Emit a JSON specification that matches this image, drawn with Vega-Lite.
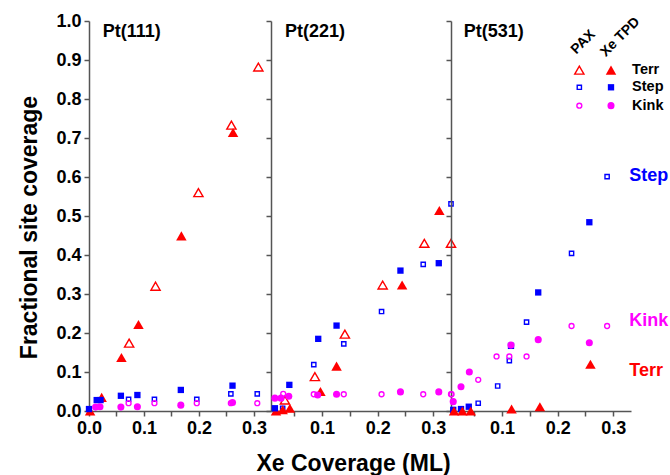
{
  "$schema": "https://vega.github.io/schema/vega-lite/v6.json",
  "background": "white",
  "padding": {"left": 18, "top": 12, "right": 0, "bottom": 0},
  "bounds": "flush",
  "spacing": 0,
  "config": {
    "font": "Liberation Sans",
    "view": {"stroke": null},
    "axis": {
      "labelFont": "Liberation Sans", "labelFontWeight": "bold", "labelFontSize": 18, "labelColor": "black",
      "titleFont": "Liberation Sans", "titleFontWeight": "bold", "titleFontSize": 23, "titleColor": "black",
      "domainColor": "#555", "domainWidth": 1.5, "tickColor": "#555", "tickWidth": 1.5, "tickSize": 5,
      "grid": false, "labelPadding": 3, "labelFlush": false, "labelOverlap": false
    },
    "text": {"font": "Liberation Sans", "fontWeight": "bold"}
  },
  "datasets": {
    "pts": [
      {"p":"111","m":"PAX","s":"Terr","x":0.073,"y":0.174},
      {"p":"111","m":"PAX","s":"Terr","x":0.121,"y":0.32},
      {"p":"111","m":"PAX","s":"Terr","x":0.199,"y":0.56},
      {"p":"111","m":"PAX","s":"Terr","x":0.259,"y":0.733},
      {"p":"111","m":"PAX","s":"Terr","x":0.308,"y":0.882},
      {"p":"111","m":"TPD","s":"Terr","x":0.002,"y":0.0},
      {"p":"111","m":"TPD","s":"Terr","x":0.023,"y":0.035},
      {"p":"111","m":"TPD","s":"Terr","x":0.059,"y":0.137},
      {"p":"111","m":"TPD","s":"Terr","x":0.090,"y":0.222},
      {"p":"111","m":"TPD","s":"Terr","x":0.168,"y":0.449},
      {"p":"111","m":"TPD","s":"Terr","x":0.262,"y":0.714},
      {"p":"111","m":"PAX","s":"Step","x":0.072,"y":0.030},
      {"p":"111","m":"PAX","s":"Step","x":0.119,"y":0.030},
      {"p":"111","m":"PAX","s":"Step","x":0.196,"y":0.030},
      {"p":"111","m":"PAX","s":"Step","x":0.258,"y":0.044},
      {"p":"111","m":"PAX","s":"Step","x":0.306,"y":0.044},
      {"p":"111","m":"TPD","s":"Step","x":0.0,"y":0.005},
      {"p":"111","m":"TPD","s":"Step","x":0.014,"y":0.028},
      {"p":"111","m":"TPD","s":"Step","x":0.021,"y":0.028},
      {"p":"111","m":"TPD","s":"Step","x":0.058,"y":0.039},
      {"p":"111","m":"TPD","s":"Step","x":0.088,"y":0.041},
      {"p":"111","m":"TPD","s":"Step","x":0.167,"y":0.054},
      {"p":"111","m":"TPD","s":"Step","x":0.261,"y":0.065},
      {"p":"111","m":"PAX","s":"Kink","x":0.072,"y":0.02},
      {"p":"111","m":"PAX","s":"Kink","x":0.119,"y":0.02},
      {"p":"111","m":"PAX","s":"Kink","x":0.196,"y":0.02},
      {"p":"111","m":"PAX","s":"Kink","x":0.258,"y":0.02},
      {"p":"111","m":"PAX","s":"Kink","x":0.306,"y":0.02},
      {"p":"111","m":"TPD","s":"Kink","x":0.012,"y":0.01},
      {"p":"111","m":"TPD","s":"Kink","x":0.02,"y":0.011},
      {"p":"111","m":"TPD","s":"Kink","x":0.058,"y":0.01},
      {"p":"111","m":"TPD","s":"Kink","x":0.088,"y":0.011},
      {"p":"111","m":"TPD","s":"Kink","x":0.167,"y":0.015},
      {"p":"111","m":"TPD","s":"Kink","x":0.261,"y":0.022},

      {"p":"221","m":"PAX","s":"Terr","x":0.033,"y":0.028},
      {"p":"221","m":"PAX","s":"Terr","x":0.087,"y":0.088},
      {"p":"221","m":"PAX","s":"Terr","x":0.141,"y":0.197},
      {"p":"221","m":"PAX","s":"Terr","x":0.209,"y":0.323},
      {"p":"221","m":"PAX","s":"Terr","x":0.284,"y":0.43},
      {"p":"221","m":"PAX","s":"Terr","x":0.332,"y":0.43},
      {"p":"221","m":"TPD","s":"Terr","x":0.017,"y":0.0},
      {"p":"221","m":"TPD","s":"Terr","x":0.029,"y":0.003},
      {"p":"221","m":"TPD","s":"Terr","x":0.042,"y":0.007},
      {"p":"221","m":"TPD","s":"Terr","x":0.097,"y":0.05},
      {"p":"221","m":"TPD","s":"Terr","x":0.126,"y":0.115},
      {"p":"221","m":"TPD","s":"Terr","x":0.244,"y":0.323},
      {"p":"221","m":"TPD","s":"Terr","x":0.311,"y":0.514},
      {"p":"221","m":"PAX","s":"Step","x":0.029,"y":0.007},
      {"p":"221","m":"PAX","s":"Step","x":0.085,"y":0.119},
      {"p":"221","m":"PAX","s":"Step","x":0.139,"y":0.172},
      {"p":"221","m":"PAX","s":"Step","x":0.207,"y":0.255},
      {"p":"221","m":"PAX","s":"Step","x":0.282,"y":0.376},
      {"p":"221","m":"PAX","s":"Step","x":0.332,"y":0.531},
      {"p":"221","m":"TPD","s":"Step","x":0.015,"y":0.007},
      {"p":"221","m":"TPD","s":"Step","x":0.041,"y":0.067},
      {"p":"221","m":"TPD","s":"Step","x":0.093,"y":0.185},
      {"p":"221","m":"TPD","s":"Step","x":0.126,"y":0.219},
      {"p":"221","m":"TPD","s":"Step","x":0.241,"y":0.36},
      {"p":"221","m":"TPD","s":"Step","x":0.31,"y":0.379},
      {"p":"221","m":"PAX","s":"Kink","x":0.03,"y":0.044},
      {"p":"221","m":"PAX","s":"Kink","x":0.085,"y":0.043},
      {"p":"221","m":"PAX","s":"Kink","x":0.139,"y":0.043},
      {"p":"221","m":"PAX","s":"Kink","x":0.207,"y":0.043},
      {"p":"221","m":"PAX","s":"Kink","x":0.282,"y":0.043},
      {"p":"221","m":"PAX","s":"Kink","x":0.333,"y":0.043},
      {"p":"221","m":"TPD","s":"Kink","x":0.015,"y":0.033},
      {"p":"221","m":"TPD","s":"Kink","x":0.026,"y":0.033},
      {"p":"221","m":"TPD","s":"Kink","x":0.04,"y":0.038},
      {"p":"221","m":"TPD","s":"Kink","x":0.092,"y":0.041},
      {"p":"221","m":"TPD","s":"Kink","x":0.126,"y":0.043},
      {"p":"221","m":"TPD","s":"Kink","x":0.241,"y":0.049},
      {"p":"221","m":"TPD","s":"Kink","x":0.31,"y":0.049},

      {"p":"531","m":"PAX","s":"Step","x":0.057,"y":0.02},
      {"p":"531","m":"PAX","s":"Step","x":0.092,"y":0.064},
      {"p":"531","m":"PAX","s":"Step","x":0.113,"y":0.129},
      {"p":"531","m":"PAX","s":"Step","x":0.144,"y":0.228},
      {"p":"531","m":"PAX","s":"Step","x":0.225,"y":0.404},
      {"p":"531","m":"PAX","s":"Step","x":0.289,"y":0.601},
      {"p":"531","m":"TPD","s":"Step","x":0.012,"y":0.003},
      {"p":"531","m":"TPD","s":"Step","x":0.026,"y":0.005},
      {"p":"531","m":"TPD","s":"Step","x":0.04,"y":0.011},
      {"p":"531","m":"TPD","s":"Step","x":0.116,"y":0.167},
      {"p":"531","m":"TPD","s":"Step","x":0.165,"y":0.304},
      {"p":"531","m":"TPD","s":"Step","x":0.257,"y":0.484},
      {"p":"531","m":"PAX","s":"Kink","x":0.008,"y":0.043},
      {"p":"531","m":"PAX","s":"Kink","x":0.057,"y":0.08},
      {"p":"531","m":"PAX","s":"Kink","x":0.09,"y":0.14},
      {"p":"531","m":"PAX","s":"Kink","x":0.113,"y":0.14},
      {"p":"531","m":"PAX","s":"Kink","x":0.144,"y":0.14},
      {"p":"531","m":"PAX","s":"Kink","x":0.225,"y":0.218},
      {"p":"531","m":"PAX","s":"Kink","x":0.289,"y":0.218},
      {"p":"531","m":"TPD","s":"Kink","x":0.012,"y":0.024},
      {"p":"531","m":"TPD","s":"Kink","x":0.026,"y":0.062},
      {"p":"531","m":"TPD","s":"Kink","x":0.041,"y":0.1},
      {"p":"531","m":"TPD","s":"Kink","x":0.116,"y":0.169},
      {"p":"531","m":"TPD","s":"Kink","x":0.165,"y":0.183},
      {"p":"531","m":"TPD","s":"Kink","x":0.257,"y":0.175},
      {"p":"531","m":"TPD","s":"Terr","x":0.0135,"y":0.0},
      {"p":"531","m":"TPD","s":"Terr","x":0.0285,"y":0.0},
      {"p":"531","m":"TPD","s":"Terr","x":0.0435,"y":0.0},
      {"p":"531","m":"TPD","s":"Terr","x":0.117,"y":0.005},
      {"p":"531","m":"TPD","s":"Terr","x":0.168,"y":0.011},
      {"p":"531","m":"TPD","s":"Terr","x":0.259,"y":0.12}
    ],
    "leg": [
      {"m":"PAX","s":"Terr","x":0.239,"y":0.874},
      {"m":"PAX","s":"Step","x":0.239,"y":0.83},
      {"m":"PAX","s":"Kink","x":0.239,"y":0.783},
      {"m":"TPD","s":"Terr","x":0.296,"y":0.874},
      {"m":"TPD","s":"Step","x":0.296,"y":0.83},
      {"m":"TPD","s":"Kink","x":0.296,"y":0.783}
    ],
    "legtext": [
      {"t":"Terr","x":0.334,"y":0.874},
      {"t":"Step","x":0.334,"y":0.83},
      {"t":"Kink","x":0.334,"y":0.783}
    ],
    "heads": [
      {"t":"PAX","x":0.246,"y":0.946},
      {"t":"Xe TPD","x":0.3126,"y":0.959}
    ],
    "side": [
      {"s":"Step","x":0.329,"y":0.603},
      {"s":"Kink","x":0.329,"y":0.2315},
      {"s":"Terr","x":0.329,"y":0.103}
    ]
  },
  "hconcat": [
    {
      "width": 182, "height": 390,
      "encoding": {
        "x": {"field": "x", "type": "quantitative",
              "scale": {"domain": [0, 0.331], "nice": false, "zero": false},
              "axis": {"values": [0, 0.05, 0.1, 0.15, 0.2, 0.25, 0.3], "title": null,
                       "labelExpr": "abs(datum.value*10 - round(datum.value*10)) < 0.001 ? format(datum.value, '.1f') : ''"}},
        "y": {"field": "y", "type": "quantitative",
              "scale": {"domain": [0, 1], "nice": false, "zero": false},
              "axis": {"values": [0,0.1,0.2,0.3,0.4,0.5,0.6,0.7,0.8,0.9,1.0], "format": ".1f",
                       "title": "Fractional site coverage", "titlePadding": 14, "titleY": 206}}
      },
      "resolve": {"scale": {"size": "independent"}},
      "layer": [
        {"data": {"name": "pts"}, "transform": [{"filter": "datum.p=='111' && datum.m=='PAX'"}],
         "mark": {"type": "point", "filled": false, "strokeWidth": 1.4, "opacity": 1},
         "encoding": {
           "color": {"field": "s", "type": "nominal", "scale": {"domain": ["Terr","Step","Kink"], "range": ["#ff0000","#0000ff","#ff00ff"]}, "legend": null},
           "shape": {"field": "s", "type": "nominal", "scale": {"domain": ["Terr","Step","Kink"], "range": ["triangle-up","square","circle"]}, "legend": null},
           "size": {"field": "s", "type": "nominal", "scale": {"type": "ordinal", "domain": ["Terr","Step","Kink"], "range": [85,18,24]}, "legend": null}}},
        {"data": {"name": "pts"}, "transform": [{"filter": "datum.p=='111' && datum.m=='TPD'"}],
         "mark": {"type": "point", "filled": true, "opacity": 1},
         "encoding": {
           "color": {"field": "s", "type": "nominal", "scale": {"domain": ["Terr","Step","Kink"], "range": ["#ff0000","#0000ff","#ff00ff"]}, "legend": null},
           "shape": {"field": "s", "type": "nominal", "scale": {"domain": ["Terr","Step","Kink"], "range": ["triangle-up","square","circle"]}, "legend": null},
           "size": {"field": "s", "type": "nominal", "scale": {"type": "ordinal", "domain": ["Terr","Step","Kink"], "range": [110,40,50]}, "legend": null}}},
        {"data": {"values": [{"t": "Pt(111)", "x": 0.025, "y": 0.972}]},
         "mark": {"type": "text", "align": "left", "baseline": "middle", "fontSize": 18, "color": "black"},
         "encoding": {"text": {"field": "t"}}}
      ]
    },
    {
      "width": 180, "height": 390,
      "encoding": {
        "x": {"field": "x", "type": "quantitative",
              "scale": {"domain": [0.008, 0.332], "nice": false, "zero": false},
              "axis": {"values": [0.05, 0.1, 0.15, 0.2, 0.25, 0.3], "title": "Xe Coverage (ML)", "titlePadding": 15, "titleX": 82,
                       "labelExpr": "abs(datum.value*10 - round(datum.value*10)) < 0.001 ? format(datum.value, '.1f') : ''"}},
        "y": {"field": "y", "type": "quantitative",
              "scale": {"domain": [0, 1], "nice": false, "zero": false},
              "axis": {"values": [0,0.1,0.2,0.3,0.4,0.5,0.6,0.7,0.8,0.9,1.0], "labels": false, "title": null}}
      },
      "resolve": {"scale": {"size": "independent"}},
      "layer": [
        {"data": {"name": "pts"}, "transform": [{"filter": "datum.p=='221' && datum.m=='PAX'"}],
         "mark": {"type": "point", "filled": false, "strokeWidth": 1.4, "opacity": 1},
         "encoding": {
           "color": {"field": "s", "type": "nominal", "scale": {"domain": ["Terr","Step","Kink"], "range": ["#ff0000","#0000ff","#ff00ff"]}, "legend": null},
           "shape": {"field": "s", "type": "nominal", "scale": {"domain": ["Terr","Step","Kink"], "range": ["triangle-up","square","circle"]}, "legend": null},
           "size": {"field": "s", "type": "nominal", "scale": {"type": "ordinal", "domain": ["Terr","Step","Kink"], "range": [85,18,24]}, "legend": null}}},
        {"data": {"name": "pts"}, "transform": [{"filter": "datum.p=='221' && datum.m=='TPD'"}],
         "mark": {"type": "point", "filled": true, "opacity": 1},
         "encoding": {
           "color": {"field": "s", "type": "nominal", "scale": {"domain": ["Terr","Step","Kink"], "range": ["#ff0000","#0000ff","#ff00ff"]}, "legend": null},
           "shape": {"field": "s", "type": "nominal", "scale": {"domain": ["Terr","Step","Kink"], "range": ["triangle-up","square","circle"]}, "legend": null},
           "size": {"field": "s", "type": "nominal", "scale": {"type": "ordinal", "domain": ["Terr","Step","Kink"], "range": [110,40,50]}, "legend": null}}},
        {"data": {"values": [{"t": "Pt(221)", "x": 0.033, "y": 0.972}]},
         "mark": {"type": "text", "align": "left", "baseline": "middle", "fontSize": 18, "color": "black"},
         "encoding": {"text": {"field": "t"}}}
      ]
    },
    {
      "width": 180, "height": 390,
      "encoding": {
        "x": {"field": "x", "type": "quantitative",
              "scale": {"domain": [0.008, 0.332], "nice": false, "zero": false},
              "axis": {"values": [0.05, 0.1, 0.15, 0.2, 0.25, 0.3], "title": null,
                       "labelExpr": "abs(datum.value*10 - round(datum.value*10)) < 0.001 ? format(datum.value, '.1f') : ''"}},
        "y": {"field": "y", "type": "quantitative",
              "scale": {"domain": [0, 1], "nice": false, "zero": false},
              "axis": {"values": [0,0.1,0.2,0.3,0.4,0.5,0.6,0.7,0.8,0.9,1.0], "labels": false, "title": null}}
      },
      "resolve": {"scale": {"size": "independent"}},
      "layer": [
        {"data": {"name": "pts"}, "transform": [{"filter": "datum.p=='531' && datum.m=='PAX'"}],
         "mark": {"type": "point", "filled": false, "strokeWidth": 1.4, "opacity": 1},
         "encoding": {
           "color": {"field": "s", "type": "nominal", "scale": {"domain": ["Terr","Step","Kink"], "range": ["#ff0000","#0000ff","#ff00ff"]}, "legend": null},
           "shape": {"field": "s", "type": "nominal", "scale": {"domain": ["Terr","Step","Kink"], "range": ["triangle-up","square","circle"]}, "legend": null},
           "size": {"field": "s", "type": "nominal", "scale": {"type": "ordinal", "domain": ["Terr","Step","Kink"], "range": [85,18,24]}, "legend": null}}},
        {"data": {"name": "pts"}, "transform": [{"filter": "datum.p=='531' && datum.m=='TPD'"}],
         "mark": {"type": "point", "filled": true, "opacity": 1},
         "encoding": {
           "color": {"field": "s", "type": "nominal", "scale": {"domain": ["Terr","Step","Kink"], "range": ["#ff0000","#0000ff","#ff00ff"]}, "legend": null},
           "shape": {"field": "s", "type": "nominal", "scale": {"domain": ["Terr","Step","Kink"], "range": ["triangle-up","square","circle"]}, "legend": null},
           "size": {"field": "s", "type": "nominal", "scale": {"type": "ordinal", "domain": ["Terr","Step","Kink"], "range": [110,40,50]}, "legend": null}}},
        {"data": {"name": "leg"}, "transform": [{"filter": "datum.m=='PAX'"}],
         "mark": {"type": "point", "filled": false, "strokeWidth": 1.4, "opacity": 1},
         "encoding": {
           "color": {"field": "s", "type": "nominal", "scale": {"domain": ["Terr","Step","Kink"], "range": ["#ff0000","#0000ff","#ff00ff"]}, "legend": null},
           "shape": {"field": "s", "type": "nominal", "scale": {"domain": ["Terr","Step","Kink"], "range": ["triangle-up","square","circle"]}, "legend": null},
           "size": {"field": "s", "type": "nominal", "scale": {"type": "ordinal", "domain": ["Terr","Step","Kink"], "range": [85,18,24]}, "legend": null}}},
        {"data": {"name": "leg"}, "transform": [{"filter": "datum.m=='TPD'"}],
         "mark": {"type": "point", "filled": true, "opacity": 1},
         "encoding": {
           "color": {"field": "s", "type": "nominal", "scale": {"domain": ["Terr","Step","Kink"], "range": ["#ff0000","#0000ff","#ff00ff"]}, "legend": null},
           "shape": {"field": "s", "type": "nominal", "scale": {"domain": ["Terr","Step","Kink"], "range": ["triangle-up","square","circle"]}, "legend": null},
           "size": {"field": "s", "type": "nominal", "scale": {"type": "ordinal", "domain": ["Terr","Step","Kink"], "range": [110,40,50]}, "legend": null}}},
        {"data": {"name": "legtext"},
         "mark": {"type": "text", "align": "left", "baseline": "middle", "fontSize": 14.5, "color": "black"},
         "encoding": {"text": {"field": "t"}}},
        {"data": {"name": "heads"},
         "mark": {"type": "text", "align": "center", "baseline": "middle", "fontSize": 14, "angle": -45, "color": "black"},
         "encoding": {"text": {"field": "t"}}},
        {"data": {"name": "side"},
         "mark": {"type": "text", "align": "left", "baseline": "middle", "fontSize": 18},
         "encoding": {"text": {"field": "s"},
           "color": {"field": "s", "type": "nominal", "scale": {"domain": ["Terr","Step","Kink"], "range": ["#ff0000","#0000ff","#ff00ff"]}, "legend": null}}},
        {"data": {"values": [{"t": "Pt(531)", "x": 0.031, "y": 0.972}]},
         "mark": {"type": "text", "align": "left", "baseline": "middle", "fontSize": 18, "color": "black"},
         "encoding": {"text": {"field": "t"}}}
      ]
    }
  ]
}
